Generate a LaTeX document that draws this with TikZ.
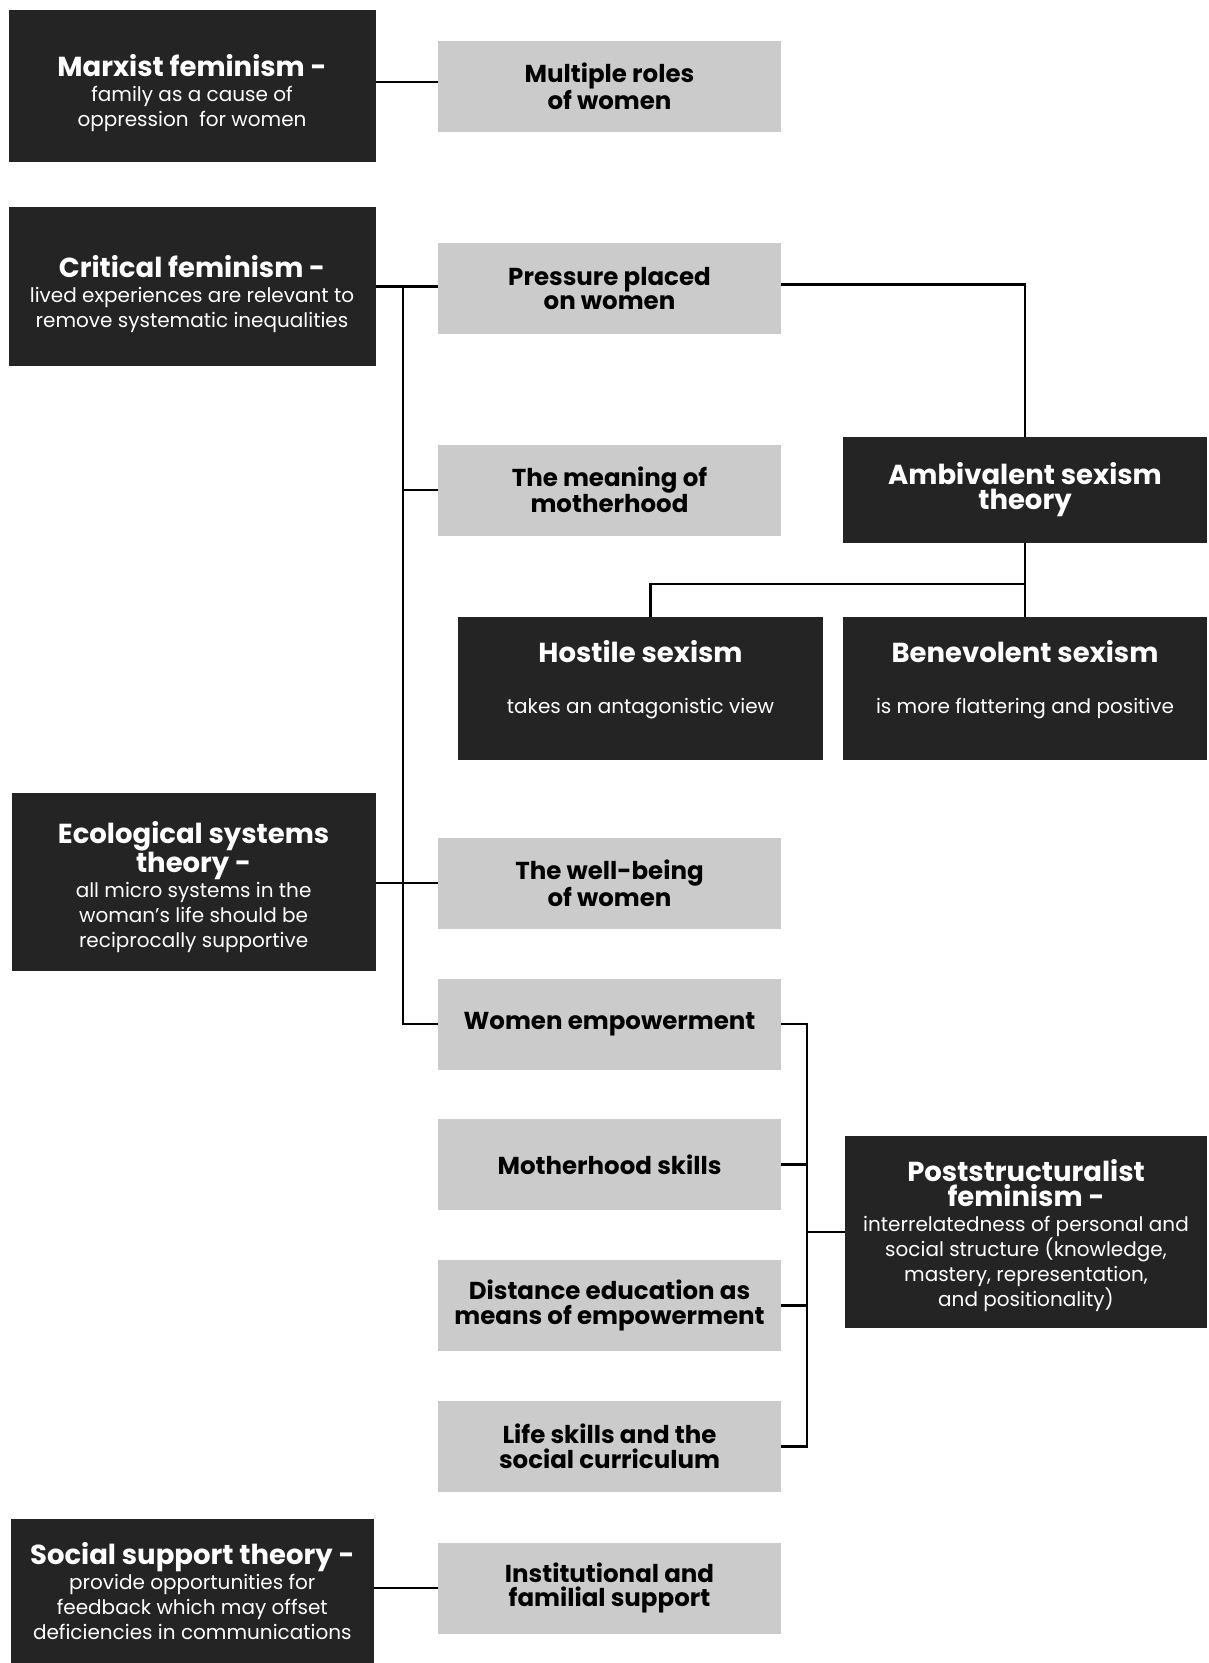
\documentclass[tikz,border=0pt]{standalone}
\usepackage{fontspec}
\setmainfont{Poppins}
\definecolor{dk}{HTML}{242424}
\definecolor{lg}{HTML}{CBCBCB}
\newcommand{\ttl}{\fontsize{27.5}{27.5}\selectfont\bfseries}
\begin{document}
\begin{tikzpicture}[x=1pt,y=-1pt,
  darkbox/.style={fill=dk, text=white, inner sep=0pt, align=center,
    font=\fontsize{20}{25}\selectfont},
  darktext/.style={text=white, inner sep=0pt, align=center,
    font=\fontsize{20}{25}\selectfont},
  litebox/.style={fill=lg, text=black, inner sep=0pt, align=center,
    minimum width=343pt, minimum height=91pt,
    font=\fontsize{24.5}{24.5}\selectfont\bfseries},
  conn/.style={line width=2.2pt, black}]
\useasboundingbox (0,0) rectangle (1208,1663);
\fill[white] (0,0) rectangle (1208,1663);

% left dark boxes
\node[darkbox, minimum width=367pt, minimum height=152pt] (marx) at (192,86) {};
\node[darktext] (marxtxt) at (192,93.5)
  {{\ttl Marxist feminism -}\\family as a cause of\\oppression\ \ for women};
\node[darkbox, minimum width=367pt, minimum height=159pt] (crit) at (192,286.5) {};
\node[darktext] (crittxt) at (192,294)
  {{\ttl Critical feminism -}\\lived experiences are relevant to\\remove systematic inequalities};
\node[darkbox, minimum width=364pt, minimum height=178pt] (eco) at (193.6,882) {};
\node[darktext] (ecotxt) at (193.6,887.5)
  {{\ttl Ecological systems}\\{\ttl theory -}\\all micro systems in the\\woman’s life should be\\reciprocally supportive};
\node[darkbox, minimum width=363.4pt, minimum height=144pt] (soc) at (192.3,1591)
  {{\ttl Social support theory -}\\provide opportunities for\\feedback which may offset\\deficiencies in communications};

% right dark boxes
\node[darkbox, minimum width=364pt, minimum height=106pt] (amb) at (1025,490)
  {{\ttl Ambivalent sexism}\\{\ttl theory}};
\node[darkbox, minimum width=365pt, minimum height=143pt] (hos) at (640.5,688.5) {};
\node[darktext] (hostxt) at (640.5,680)
  {{\ttl Hostile sexism}\\[26pt]takes an antagonistic view};
\node[darkbox, minimum width=364pt, minimum height=143pt] (ben) at (1025,688.5) {};
\node[darktext] (bentxt) at (1025,680)
  {{\ttl Benevolent sexism}\\[26pt]is more flattering and positive};
\node[darkbox, minimum width=362pt, minimum height=192pt] (post) at (1026,1232) {};
\node[darktext] (posttxt) at (1026,1235.5)
  {{\ttl Poststructuralist}\\{\ttl feminism -}\\interrelatedness of personal and\\social structure (knowledge,\\mastery, representation,\\and positionality)};

% grey boxes
\node[litebox] (multi) at (609.5,86) {Multiple roles\\of women};
\node[litebox] (press) at (609.5,288.5) {Pressure placed\\on women};
\node[litebox] (mean) at (609.5,490) {The meaning of\\motherhood};
\node[litebox] (well) at (609.5,883) {The well-being\\of women};
\node[litebox] (we) at (609.5,1024) {Women empowerment};
\node[litebox] (ms) at (609.5,1164.5) {Motherhood skills};
\node[litebox] (de) at (609.5,1305.5) {Distance education as\\means of empowerment};
\node[litebox] (ls) at (609.5,1446.5) {Life skills and the\\social curriculum};
\node[litebox] (inst) at (609.5,1588) {Institutional and\\familial support};

% connectors
\coordinate (t) at (403,0);
\coordinate (b) at (807,0);
\coordinate (hb) at (0,584);
\draw[conn] ([yshift=4pt]marx.east) -- ([yshift=4pt]marx.east -| multi.west);
\draw[conn] (crit.east) -- (crit.east -| press.west);
\draw[conn] (t |- crit.east) |- (we.west);
\draw[conn] (t |- mean.west) -- (mean.west);
\draw[conn] (eco.east |- well.west) -- (well.west);
\draw[conn] (soc.east |- inst.west) -- (inst.west);
\draw[conn] ([yshift=4pt]press.east) -| (amb.north);
\draw[conn] (amb.south) -- (ben.north);
\draw[conn] (amb.south |- hb) -| ([xshift=10pt]hos.north);
\draw[conn] (we.east) -| (b |- ls.east) -- (ls.east);
\draw[conn] (ms.east) -- (b |- ms.east);
\draw[conn] (de.east) -- (b |- de.east);
\draw[conn] (b |- post.west) -- (post.west);
\end{tikzpicture}
\end{document}
